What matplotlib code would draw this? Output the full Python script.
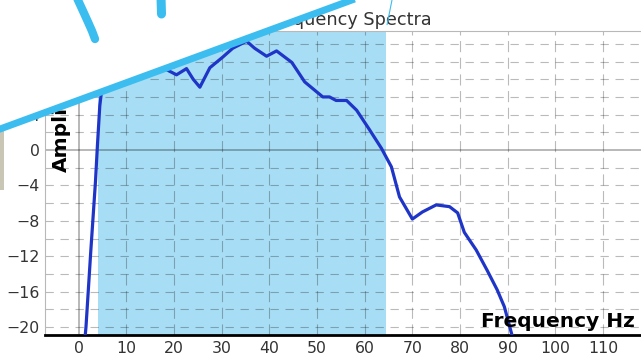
import matplotlib
matplotlib.use("Agg")
import matplotlib.pyplot as plt
from matplotlib.patches import Polygon, Rectangle
from matplotlib.lines import Line2D

# spectrum (Hz, dB)
freq = [1.0, 1.5, 2.5, 3.5, 3.9, 4.4, 4.8, 5.5, 6.5, 8.0, 11.0, 14.0, 17.0,
        18.7, 20.5, 22.6, 24.0, 25.4, 27.5, 30.2, 32.3, 35.2, 36.9, 39.4,
        41.5, 44.7, 47.4, 51.2, 52.6, 54.0, 56.2, 58.3, 61.0, 63.5, 65.6,
        67.3, 70.0, 72.1, 75.0, 77.8, 79.5, 80.9, 83.4, 85.7, 87.8, 89.3,
        90.8, 91.5]
amp = [-23.0, -20.0, -11.5, -3.5, 0.5, 5.0, 6.8, 8.5, 9.4, 10.0, 10.4, 10.2,
       9.5, 9.0, 8.5, 9.2, 8.0, 7.1, 9.3, 10.5, 11.5, 12.3, 11.5, 10.6, 11.2,
       9.9, 7.7, 6.0, 6.0, 5.6, 5.6, 4.5, 2.3, 0.2, -1.9, -5.3, -7.8, -7.0,
       -6.2, -6.4, -7.1, -9.3, -11.3, -13.6, -15.8, -17.7, -20.7, -22.0]
band = [4.0, 64.5]
xticks = list(range(0, 111, 10))
yticks = list(range(-20, 13, 4))

W, H = 641, 357
fig = plt.figure(figsize=(W / 100, H / 100), dpi=100)
fig.patch.set_facecolor("white")
ax = fig.add_axes([45 / W, 1 - 335 / H, 608 / W, 304 / H])

ax.axvspan(band[0], band[1], color="#a8def5", lw=0, zorder=0)

# dashed grid every 2 dB / 10 Hz, solid zero lines
for y in range(-20, 14, 2):
    if y != 0:
        ax.axhline(y, color="black", alpha=0.27, lw=0.8, dashes=(7.5, 6), zorder=1)
for x in range(10, 121, 10):
    ax.axvline(x, color="black", alpha=0.27, lw=0.8, dashes=(10, 5), zorder=1)
ax.axhline(0, color="black", alpha=0.33, lw=1.2, zorder=1)
ax.axvline(0, color="black", alpha=0.33, lw=1.2, zorder=1)

ax.plot(freq, amp, color="#1f35c8", lw=2.3, solid_joinstyle="round",
        solid_capstyle="round", zorder=3)

ax.set_xlim(-7.1, 120.5)
ax.set_ylim(-20.9, 13.45)
ax.set_xticks(xticks)
ax.set_yticks(yticks)
ax.tick_params(length=0, labelsize=11.3, labelcolor="#333333", pad=4)
ax.set_facecolor("white")
for name, sp in ax.spines.items():
    sp.set_color("#b8b8b8")
ax.spines["bottom"].set_color("black")
ax.spines["bottom"].set_linewidth(2)

ax.set_title("Frequency Spectra", fontsize=12.7, color="#333333", pad=4)
ax.text(116.7, -20.0, "Frequency Hz", fontsize=14.5, fontweight="bold",
        ha="right", va="baseline", zorder=5)
ax.text(-3.6, -2.5, "Amplitude", fontsize=14.5, fontweight="bold",
        rotation=90, ha="center", va="bottom", zorder=5)


def px(x, y):
    return (x / W, 1 - y / H)


# screenshot overlay: white corner, marker line and pen strokes
fig.add_artist(Polygon([px(0, 0), px(352, 0), px(0, 129)], closed=True,
                       transform=fig.transFigure, facecolor="white",
                       edgecolor="none", zorder=10))
fig.add_artist(Rectangle(px(0, 190), 4 / W, 63 / H, transform=fig.transFigure,
                         facecolor="#c9c6b6", edgecolor="none", zorder=10))
sky = "#3bbdf0"
strokes = [
    ([-10, 362], [132.7, -3.7], 5.0, "butt"),
    ([77, 83, 88, 92, 95], [-2, 11, 22, 31, 39], 6.0, "round"),
    ([161, 161.5], [-3, 14], 6.5, "round"),
    ([392, 387], [0, 25], 0.8, "butt"),
]
for xs, ys, lw, cap in strokes:
    fig.add_artist(Line2D([x / W for x in xs], [1 - y / H for y in ys],
                          transform=fig.transFigure, color=sky, lw=lw,
                          solid_capstyle=cap, zorder=11))

fig.savefig("out.png", dpi=100)
